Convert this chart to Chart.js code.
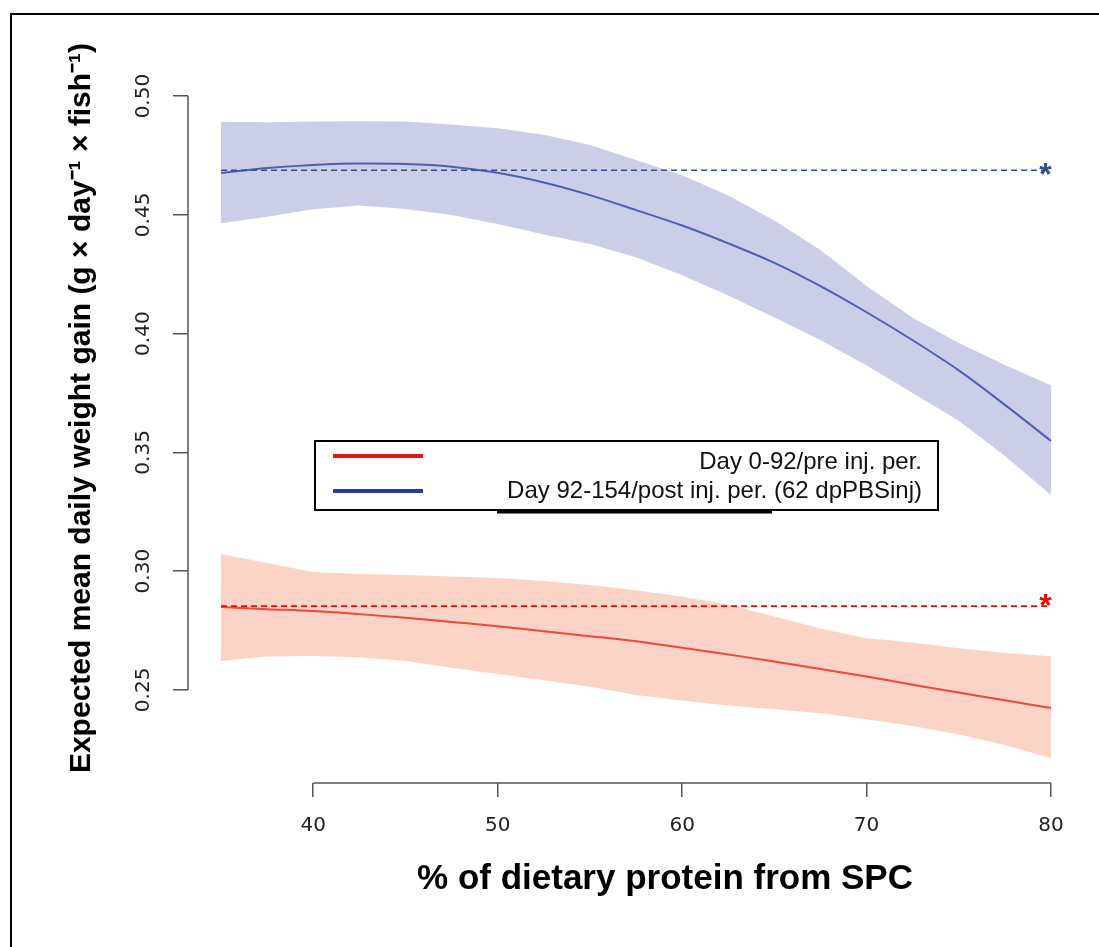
<!DOCTYPE html>
<html>
<head>
<meta charset="utf-8">
<script src="https://cdn.jsdelivr.net/npm/chart.js"></script>
<style>
  body { margin: 0; background: #fff; }
  #wrap { width: 1099px; height: 947px; }
</style>
</head>
<body>
<div id="wrap"><canvas id="growthChart" width="1099" height="947"></canvas></div>
<script>
// % of dietary protein from SPC
var spc = [35, 37.5, 40, 42.5, 45, 47.5, 50, 52.5, 55, 57.5, 60, 62.5, 65, 67.5, 70, 72.5, 75, 77.5, 80];

// Day 92-154 (post injection) fit and band
var postFit   = [0.4676, 0.4697, 0.4710, 0.4716, 0.4714, 0.4703, 0.4677, 0.4636, 0.4583, 0.4520, 0.4455, 0.4380, 0.4298, 0.4200, 0.4090, 0.3972, 0.3845, 0.3700, 0.3548];
var postUpper = [0.4892, 0.4890, 0.4893, 0.4894, 0.4893, 0.4880, 0.4865, 0.4837, 0.4794, 0.4731, 0.4667, 0.4581, 0.4476, 0.4352, 0.4200, 0.4067, 0.3960, 0.3868, 0.3783];
var postLower = [0.4465, 0.4492, 0.4524, 0.4539, 0.4525, 0.4499, 0.4461, 0.4417, 0.4377, 0.4322, 0.4246, 0.4160, 0.4068, 0.3973, 0.3866, 0.3750, 0.3633, 0.3485, 0.3320];

// Day 0-92 (pre injection) fit and band
var preFit   = [0.2849, 0.2840, 0.2832, 0.2819, 0.2804, 0.2786, 0.2768, 0.2747, 0.2726, 0.2705, 0.2677, 0.2649, 0.2620, 0.2588, 0.2556, 0.2522, 0.2489, 0.2456, 0.2424];
var preUpper = [0.3072, 0.3034, 0.2996, 0.2988, 0.2984, 0.2977, 0.2971, 0.2958, 0.2942, 0.2920, 0.2892, 0.2860, 0.2809, 0.2758, 0.2717, 0.2700, 0.2675, 0.2655, 0.2642];
var preLower = [0.2622, 0.2641, 0.2643, 0.2637, 0.2622, 0.2593, 0.2567, 0.2541, 0.2513, 0.2478, 0.2455, 0.2434, 0.2418, 0.2402, 0.2376, 0.2348, 0.2312, 0.2268, 0.2213];

// horizontal reference lines (marked with *)
var refX = [35, 80];
var postMean = [0.4688, 0.4688];
var preMean = [0.2853, 0.2853];

var xTicks = [40, 50, 60, 70, 80];
var yTicks = [0.25, 0.30, 0.35, 0.40, 0.45, 0.50];

var legendLabels = ['Day 0-92/pre inj. per.', 'Day 92-154/post inj. per. (62 dpPBSinj)'];
var xTitle = '% of dietary protein from SPC';
var yTitle = 'Expected mean daily weight gain (g \u00d7 day\u207b\u00b9 \u00d7 fish\u207b\u00b9)';

var BLUE_BAND = 'rgb(204,206,232)';
var RED_BAND = 'rgb(252,212,198)';
var BLUE_LINE = 'rgb(78,94,176)';
var RED_LINE = 'rgb(238,72,58)';
var BLUE_DASH = 'rgb(47,80,140)';
var RED_DASH = 'rgb(255,0,0)';

function pts(xs, ys) {
  return xs.map(function (x, i) { return { x: x, y: ys[i] }; });
}

function band(ys, color, fill) {
  return { data: pts(spc, ys), fill: fill, backgroundColor: color, borderWidth: 0,
           pointRadius: 0, tension: 0, order: 3 };
}

var decorations = {
  id: 'decorations',
  afterDraw: function (chart) {
    var ctx = chart.ctx, x = chart.scales.x, y = chart.scales.y, a = chart.chartArea;
    ctx.save();

    // picture frame (top and left edges)
    ctx.strokeStyle = '#000';
    ctx.lineWidth = 2;
    ctx.beginPath();
    ctx.moveTo(11, 947); ctx.lineTo(11, 14); ctx.lineTo(1099, 14);
    ctx.stroke();

    // R style axis lines, first tick to last tick
    ctx.strokeStyle = '#555';
    ctx.lineWidth = 1.5;
    ctx.beginPath();
    ctx.moveTo(x.getPixelForValue(xTicks[0]), a.bottom);
    ctx.lineTo(x.getPixelForValue(xTicks[xTicks.length - 1]), a.bottom);
    ctx.moveTo(a.left, y.getPixelForValue(yTicks[0]));
    ctx.lineTo(a.left, y.getPixelForValue(yTicks[yTicks.length - 1]));
    ctx.stroke();

    // asterisks at the end of the dashed lines
    ctx.font = 'bold 32px "Liberation Sans"';
    ctx.textAlign = 'center';
    ctx.textBaseline = 'alphabetic';
    ctx.fillStyle = BLUE_DASH;
    ctx.fillText('*', x.getPixelForValue(79.7), y.getPixelForValue(postMean[1]) + 15);
    ctx.fillStyle = RED_DASH;
    ctx.fillText('*', x.getPixelForValue(79.7), y.getPixelForValue(preMean[1]) + 10);

    // legend
    ctx.fillStyle = '#fff';
    ctx.fillRect(315, 441, 623, 69);
    ctx.strokeStyle = '#000';
    ctx.lineWidth = 2;
    ctx.strokeRect(315, 441, 623, 69);
    ctx.lineWidth = 3;
    ctx.beginPath();
    ctx.moveTo(497, 512); ctx.lineTo(772, 512);
    ctx.stroke();
    var colors = ['rgb(235,20,20)', 'rgb(40,62,150)'];
    var rows = [456, 491];
    var baselines = [469, 498];
    ctx.font = '24px "Liberation Sans"';
    ctx.textAlign = 'right';
    ctx.textBaseline = 'alphabetic';
    for (var i = 0; i < legendLabels.length; i++) {
      ctx.strokeStyle = colors[i];
      ctx.lineWidth = 4;
      ctx.beginPath();
      ctx.moveTo(333, rows[i]); ctx.lineTo(423, rows[i]);
      ctx.stroke();
      ctx.fillStyle = '#111';
      ctx.fillText(legendLabels[i], 922, baselines[i]);
    }

    // axis titles
    ctx.fillStyle = '#000';
    ctx.font = 'bold 35px "Liberation Sans"';
    ctx.textAlign = 'center';
    ctx.textBaseline = 'middle';
    ctx.fillText(xTitle, 665, 879);
    ctx.translate(82, 408);
    ctx.rotate(-Math.PI / 2);
    ctx.font = 'bold 30px "Liberation Sans"';
    ctx.fillText(yTitle, 0, 0);

    ctx.restore();
  }
};

var ctx = document.getElementById('growthChart');
var chart = new Chart(ctx, {
  type: 'line',
  data: {
    datasets: [
      { label: 'post mean', data: pts(refX, postMean), borderColor: BLUE_DASH, borderWidth: 1.5,
        borderDash: [6, 4], pointRadius: 0, fill: false, order: 1 },
      { label: 'pre mean', data: pts(refX, preMean), borderColor: RED_DASH, borderWidth: 1.8,
        borderDash: [6, 4], pointRadius: 0, fill: false, order: 1 },
      { label: legendLabels[1], data: pts(spc, postFit), borderColor: BLUE_LINE, borderWidth: 2,
        pointRadius: 0, fill: false, cubicInterpolationMode: 'monotone', order: 2 },
      { label: legendLabels[0], data: pts(spc, preFit), borderColor: RED_LINE, borderWidth: 2,
        pointRadius: 0, fill: false, cubicInterpolationMode: 'monotone', order: 2 },
      band(postUpper, BLUE_BAND, '+1'),
      band(postLower, BLUE_BAND, false),
      band(preUpper, RED_BAND, '+1'),
      band(preLower, RED_BAND, false)
    ]
  },
  options: {
    responsive: false,
    animation: false,
    layout: { padding: { left: 0, top: 60, right: 19, bottom: 0 } },
    plugins: { legend: { display: false }, tooltip: { enabled: false } },
    scales: {
      x: {
        type: 'linear',
        min: 33.21,
        max: 81.57,
        afterBuildTicks: function (s) { s.ticks = xTicks.map(function (v) { return { value: v }; }); },
        afterFit: function (s) { s.height = 164; },
        border: { display: false },
        grid: { drawOnChartArea: false, drawTicks: true, tickLength: 14, color: '#555', lineWidth: 1.5 },
        ticks: { color: '#222', padding: 17, font: { family: 'DejaVu Sans', size: 20 } }
      },
      y: {
        type: 'linear',
        min: 0.2108,
        max: 0.5152,
        afterBuildTicks: function (s) { s.ticks = yTicks.map(function (v) { return { value: v }; }); },
        afterFit: function (s) { s.width = 188; },
        border: { display: false },
        grid: { drawOnChartArea: false, drawTicks: true, tickLength: 15, color: '#555', lineWidth: 1.5 },
        ticks: {
          color: '#222', padding: 7, minRotation: 90, maxRotation: 90, crossAlign: 'center',
          font: { family: 'DejaVu Sans', size: 20 },
          callback: function (v) { return v.toFixed(2); }
        }
      }
    }
  },
  plugins: [decorations]
});
</script>
</body>
</html>
